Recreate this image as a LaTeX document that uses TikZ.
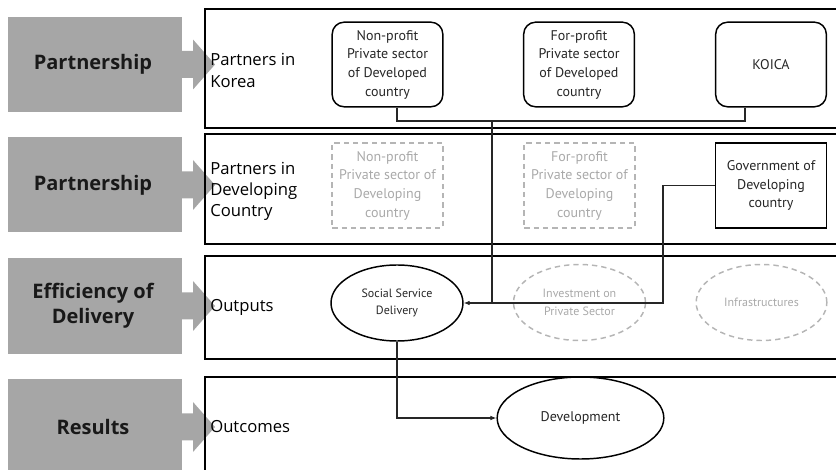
\documentclass[tikz,border=0pt]{standalone}
\usepackage{fontspec}
\setmainfont{Open Sans}
\newfontfamily\innerfont{PT Sans}
\usetikzlibrary{shapes.geometric,arrows.meta}

\definecolor{bandgray}{HTML}{A6A6A6}
\definecolor{fadetext}{HTML}{A9A9A9}
\definecolor{fadeline}{HTML}{B5B5B5}

\tikzset{
  panel/.style={draw=black, line width=1.4pt},
  bandlabel/.style={font=\bfseries\fontsize{15}{18.5}\selectfont, align=center, text=black!90},
  rowlabel/.style={anchor=west, align=left, font=\fontsize{12.5}{16}\selectfont, inner sep=0pt},
  actor/.style={draw, line width=1.1pt, rounded corners=9pt, minimum width=83pt, minimum height=63.5pt,
    inner sep=1pt, align=center, text=black!85, font=\innerfont\fontsize{10.5}{14}\selectfont},
  govbox/.style={actor, rounded corners=0pt},
  ghostbox/.style={actor, rounded corners=0pt, draw=fadeline, dash pattern=on 4pt off 3pt, text=fadetext},
  result/.style={ellipse, draw, line width=1.1pt, inner sep=0pt, align=center, text=black!85,
    font=\innerfont\fontsize{9}{13}\selectfont},
  ghostresult/.style={result, draw=fadeline, dash pattern=on 4pt off 3pt, text=fadetext},
  wire/.style={draw=black!85, line width=0.8pt},
  tip/.style={-{Latex[length=4.5pt,width=3.5pt]}}
}

\begin{document}
\begin{tikzpicture}[x=0.75pt, y=-0.75pt]
  \useasboundingbox (0,0) rectangle (836,470);
  \clip (0,0) rectangle (836,470);
  % grey block arrows on the left
  \foreach \yt/\yb/\yc/\lbl [count=\i] in {17/112/64.5/Partnership, 137/232/185/Partnership,
      258/354/306/{Efficiency of\\Delivery}, 379/480/427/Results} {
    \fill[bandgray] (8,\yt) rectangle (182,\yb);
    \fill[bandgray] (181,\yc-13.5) -- (193,\yc-13.5) -- (193,\yc-25) -- (215,\yc)
      -- (193,\yc+25) -- (193,\yc+13.5) -- (181,\yc+13.5) -- cycle;
    \node[bandlabel] (band\i) at (93,\yc) {\lbl};
  }
  % panels
  \foreach \yt/\yb in {9/128, 134/244, 256/359, 377/490} {
    \draw[panel] (205,\yt) rectangle (850,\yb);
  }
  \node[rowlabel] (korea) at (210,70.5) {Partners in\\Korea};
  \node[rowlabel] (devc) at (210,191.5) {Partners in\\Developing\\Country};
  \node[rowlabel] (outputs) at (210,307) {Outputs};
  \node[rowlabel] (outcomes) at (210,427) {Outcomes};
  % partners in Korea
  \node[actor] (np) at (387.5,64.5) {Non-profit\\Private sector\\of Developed\\country};
  \node[actor] (fp) at (579,64.5) {For-profit\\Private sector\\of Developed\\country};
  \node[actor] (koica) at (771,64.5) {KOICA};
  % partners in developing country
  \node[ghostbox] (npd) at (387.5,185.5) {Non-profit\\Private sector of\\Developing\\country};
  \node[ghostbox] (fpd) at (579.5,185.5) {For-profit\\Private sector of\\Developing\\country};
  \node[govbox] (gov) at (771,185.5) {Government of\\Developing\\country};
  % outputs
  \node[result, minimum width=99pt, minimum height=57pt] (ssd) at (397,303) {Social Service\\Delivery};
  \node[ghostresult, minimum width=99pt, minimum height=57pt] (inv) at (579.5,302.5) {Investment on\\Private Sector};
  \node[ghostresult, minimum width=98pt, minimum height=57pt] (infra) at (761.5,302.5) {Infrastructures};
  % outcomes
  \node[result, minimum width=125pt, minimum height=61.5pt, font=\innerfont\fontsize{10.5}{14}\selectfont]
    (dev) at (580.5,418) {Development};
  % connectors
  \coordinate (kjoin) at (492,121);
  \coordinate (gjoin) at (663,303);
  \draw[wire] ([xshift=7.1pt]np.south) |- (kjoin) -| ([xshift=-19.5pt]koica.south);
  \draw[wire, tip] (kjoin) |- (ssd.east);
  \draw[wire] (gov.west) -| (gjoin) -- (kjoin |- gjoin);
  \draw[wire, tip] (ssd.south) |- (dev.west);
\end{tikzpicture}
\end{document}
